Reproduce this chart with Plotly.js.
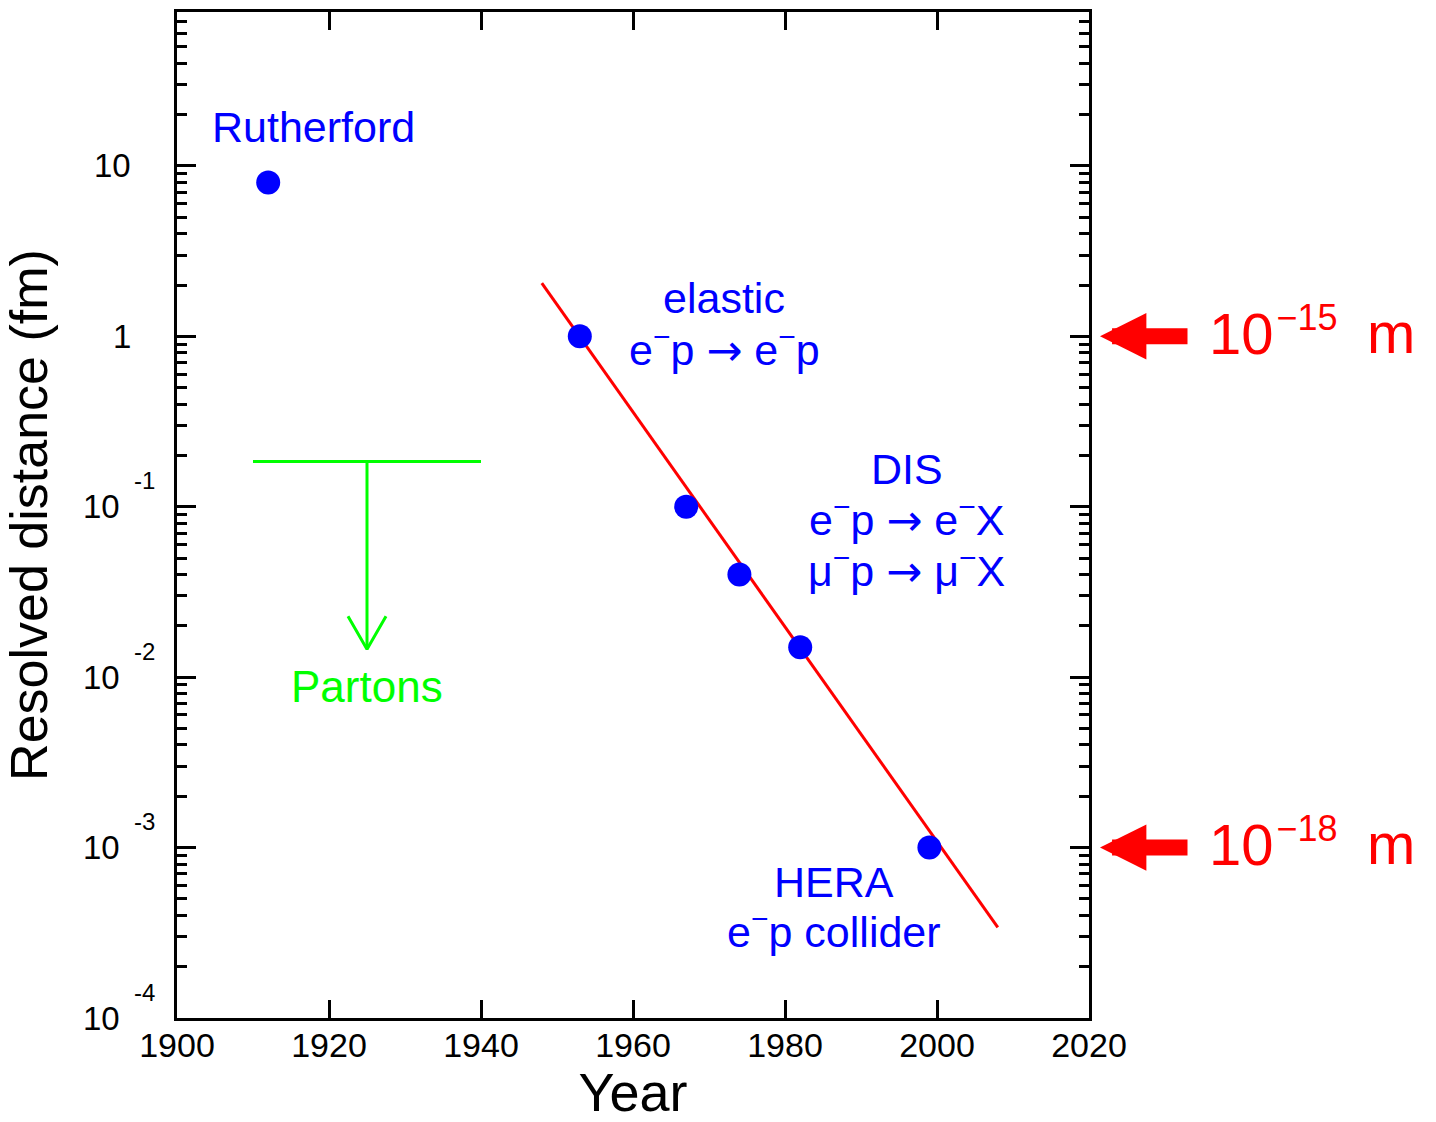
<!DOCTYPE html>
<html><head><meta charset="utf-8">
<script src="https://cdn.plot.ly/plotly-3.0.1.min.js"></script>
<style>html,body{margin:0;padding:0;background:#fff}</style>
</head><body>
<div id="chart" style="width:1436px;height:1122px"></div>
<script>
// ---- data ----
const years = [1912, 1953, 1967, 1974, 1982, 1999];
const distances = [8.0, 1.0, 0.1, 0.04, 0.015, 0.001];   // fm
const fitYears = [1948, 2008];
const fitDistances = [2.05, 3.4e-4];
const partonBarYears = [1910, 1940];
const partonBarDistance = 0.184;
const partonArrowYear = 1925;
const partonArrowTip = 0.0146;
const partonWingYears = [1922.5, 1925, 1927.5];
const partonWingDistances = [0.0228, 0.0146, 0.0228];
const xTickVals = [1900, 1920, 1940, 1960, 1980, 2000, 2020];
const yTickVals = [1e-4, 1e-3, 1e-2, 1e-1, 1, 10];
const yTickBase = ["10", "10", "10", "10", "1", "10"];
const yTickExp = ["-4", "-3", "-2", "-1", "", ""];
const scaleMarks = [1, 1e-3];  // fm
const scaleLabels = ["10<sup><span style='font-size:36px'>\u200a−15</span></sup>", "10<sup><span style='font-size:36px'>\u200a−18</span></sup>"];
const scaleUnit = "m";
const ARW = "<span style='font-family:DejaVu Sans'>→</span>";
const labelTexts = ["Rutherford", "elastic", "e<sup>−</sup>p " + ARW + " e<sup>−</sup>p", "DIS",
  "e<sup>−</sup>p " + ARW + " e<sup>−</sup>X", "μ<sup>−</sup>p " + ARW + " μ<sup>−</sup>X", "HERA", "e<sup>−</sup>p collider"];
const partonLabel = "Partons";

// ---- styling / layout ----
const FONT = 'Liberation Sans, Arial, Helvetica, sans-serif';
const BLUE = '#0000ff', RED = '#ff0000', GREEN = '#00ff00';
const L = 177, R = 1089, T = 12, B = 1018;
const W = R - L;
const px2paper = p => (p - L) / W;

const minorVals = [];
for (let e = -4; e <= 1; e++) for (let m = 2; m <= 9; m++) { const v = m * Math.pow(10, e); if (v < 79) minorVals.push(v); }

const traces = [
  {x: fitYears, y: fitDistances, mode: 'lines', line: {color: RED, width: 3}, hoverinfo: 'skip'},
  {x: partonBarYears, y: [partonBarDistance, partonBarDistance], mode: 'lines', line: {color: GREEN, width: 3}},
  {x: [partonArrowYear, partonArrowYear], y: [partonBarDistance, partonArrowTip], mode: 'lines', line: {color: GREEN, width: 3}},
  {x: partonWingYears, y: partonWingDistances, mode: 'lines', line: {color: GREEN, width: 3}},
  {x: years, y: distances, mode: 'markers', marker: {color: BLUE, size: 24}}
];

const annotations = [];
// y tick labels
yTickVals.forEach((v, i) => {
  const hasExp = yTickExp[i] !== "";
  annotations.push({xref: 'paper', yref: 'y', x: px2paper(hasExp ? 121 : 132), y: Math.log10(v),
    xanchor: 'right', yanchor: 'middle', text: yTickBase[i], showarrow: false, borderpad: 0,
    font: {family: FONT, size: 33, color: '#000'}});
  if (hasExp) annotations.push({xref: 'paper', yref: 'y', x: px2paper(133), y: Math.log10(v), yshift: 26,
    xanchor: 'left', yanchor: 'middle', text: yTickExp[i], showarrow: false, borderpad: 0,
    font: {family: FONT, size: 24, color: '#000'}});
});
// blue labels: [year, log10 distance]
const labelPos = [[1918.0, 1.229], [1972.0, 0.225], [1972.0, -0.068], [1996.05, -0.777],
  [1996.0, -1.062], [1996.0, -1.365], [1986.45, -3.202], [1986.45, -3.479]];
labelTexts.forEach((t, i) => annotations.push({xref: 'x', yref: 'y', x: labelPos[i][0], y: labelPos[i][1],
  xanchor: 'center', yanchor: 'middle', text: t, showarrow: false, borderpad: 0,
  font: {family: FONT, size: 43, color: BLUE}}));
annotations.push({xref: 'x', yref: 'y', x: 1925, y: -2.054, xanchor: 'center', yanchor: 'middle',
  text: partonLabel, showarrow: false, borderpad: 0, font: {family: FONT, size: 44, color: GREEN}});
// red scale arrows and labels
scaleMarks.forEach((v, i) => {
  annotations.push({xref: 'paper', yref: 'y', x: px2paper(1100), y: Math.log10(v), text: '', showarrow: true,
    arrowhead: 2, arrowsize: 0.58, arrowwidth: 16, arrowcolor: RED, axref: 'pixel', ayref: 'pixel',
    ax: 89, ay: 0, standoff: 0});
  annotations.push({xref: 'paper', yref: 'y', x: px2paper(1208), y: Math.log10(v), yshift: 5, xanchor: 'left', yanchor: 'middle',
    text: scaleLabels[i], showarrow: false, borderpad: 0, font: {family: FONT, size: 58, color: RED}});
  annotations.push({xref: 'paper', yref: 'y', x: px2paper(1366), y: Math.log10(v), yshift: 4, xanchor: 'left', yanchor: 'middle',
    text: scaleUnit, showarrow: false, borderpad: 0, font: {family: FONT, size: 58, color: RED}});
});

const axisCommon = {showline: true, linewidth: 3, linecolor: '#000', mirror: 'ticks', showgrid: false,
  zeroline: false, ticks: 'inside', tickwidth: 3, tickcolor: '#000'};

const layout = {
  width: 1436, height: 1122,
  margin: {l: L, r: 1436 - R, t: T, b: 1122 - B, pad: 0},
  paper_bgcolor: '#fff', plot_bgcolor: '#fff',
  font: {family: FONT, color: '#000', size: 33},
  showlegend: false,
  xaxis: Object.assign({}, axisCommon, {range: [1900, 2020], tickmode: 'array', tickvals: xTickVals,
    ticklen: 18, tickfont: {family: FONT, size: 34, color: '#000'}, ticklabelstandoff: -5,
    title: {text: 'Year', font: {family: FONT, size: 54, color: '#000'}, standoff: 36}}),
  yaxis: Object.assign({}, axisCommon, {type: 'log', range: [-4, Math.log10(80)], tickmode: 'array',
    tickvals: yTickVals, ticklen: 19, showticklabels: false,
    minor: {tickmode: 'array', tickvals: minorVals, ticks: 'inside', ticklen: 10, tickwidth: 3, tickcolor: '#000', showgrid: false},
    title: {text: 'Resolved distance (fm)', font: {family: FONT, size: 52, color: '#000'}, standoff: 110}}),
  annotations: annotations
};

Plotly.newPlot('chart', traces, layout, {displayModeBar: false, staticPlot: true});
</script>
</body></html>
